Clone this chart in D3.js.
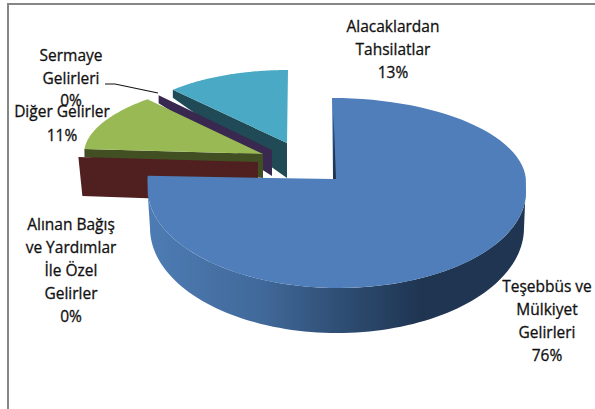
<!DOCTYPE html>
<html>
<head>
<meta charset="utf-8">
<script src="https://cdnjs.cloudflare.com/ajax/libs/d3/7.8.5/d3.min.js"></script>
<style>
html, body { margin: 0; padding: 0; background: #fff; }
svg { display: block; }
.label text { font-family: "Open Sans", Lato, sans-serif; font-size: 15.5px; fill: #111; text-anchor: middle; stroke: #111; stroke-width: 0.3px; }
</style>
</head>
<body>
<svg id="chart" width="595" height="409"></svg>
<script>
// values, clockwise from the top of the pie
const categories = ["Teşebbüs ve Mülkiyet Gelirleri", "Alınan Bağış ve Yardımlar İle Özel Gelirler", "Diğer Gelirler", "Sermaye Gelirleri", "Alacaklardan Tahsilatlar"];
const shares = [76, 0, 11, 0, 13];

const topColors = ["#4f7eba", "#c0504d", "#98b954", "#8064a2", "#4aa9c4"];
const faceColors = ["#1f3552", "#4f201f", "#424f22", "#39284f", "#1f4a56"];

// exploded slices: every one has its own tip and its own rim ellipse
const tipX = [333, 258, 263, 272, 287];
const tipY = [179, 162, 154, 150, 143];
const rimX = [335, 268, 318, 268, 288];
const rimYUp = [181, 162, 154, 150, 133];
const rimYDown = [190, 162, 154, 150, 133];
const rimRxRight = [191, 190, 234, 150, 158];
const rimRxLeft = [187.5, 190, 234, 150, 158];
const rimRyUp = [83, 80, 80, 80, 63];
const rimRyDown = [98, 80, 80, 80, 63];
const rimSkew = [3, 0, 0, 0, 0];
const faceOuter = [0, 39, 8, 8, 8];
const faceTip = [0, 40, 24, 26, 35];
const faceSlant = [0, 4, 0, 0, 0];
const drawOrder = [4, 3, 2, 1, 0];

// lower edge of the wall of the big slice
const wallX = 337, wallY = 228, wallRx = 187, wallRy = 105;

// label lines, x centre, first baseline
const labelLines = [
    ["Teşebbüs ve", "Mülkiyet", "Gelirleri"],
    ["Alınan Bağış", "ve Yardımlar", "İle Özel", "Gelirler"],
    ["Diğer Gelirler"],
    ["Sermaye", "Gelirleri"],
    ["Alacaklardan", "Tahsilatlar"]
];
const labelX = [547, 71, 62, 71, 393];
const labelY = [292, 230, 117, 61, 32];
const labelStep = [23, 23, 24, 22.5, 23];
const labelOrder = [0, 1, 3, 2, 4];

const svg = d3.select("#chart");

const slices = d3.pie().sort(null).value(d => d)(shares);

function rimPoint(i, a) {
    const u = Math.sin(a), v = -Math.cos(a);
    const rx = u < 0 ? rimRxLeft[i] : rimRxRight[i];
    const y = v < 0 ? rimYUp[i] + rimRyUp[i] * v : rimYDown[i] + rimRyDown[i] * v;
    return [rimX[i] + rx * u + rimSkew[i] * v, y];
}

function arcPoints(i, a0, a1, n) {
    return d3.range(n + 1).map(k => rimPoint(i, a0 + (a1 - a0) * k / n));
}

const line = d3.line();

// chart frame, only its left and top edges are inside the picture
svg.append("rect")
    .attr("x", 8).attr("y", 4)
    .attr("width", 700).attr("height", 600)
    .attr("fill", "none")
    .attr("stroke", "#868686")
    .attr("stroke-width", 2);

const defs = svg.append("defs");
const wallGradient = defs.append("linearGradient")
    .attr("id", "wall-gradient")
    .attr("gradientUnits", "userSpaceOnUse")
    .attr("x1", 148).attr("x2", 527)
    .attr("y1", 0).attr("y2", 0);
wallGradient.selectAll("stop")
    .data([[0, "#4d7cb4"], [0.3, "#41699a"], [0.5, "#2f4f75"], [0.72, "#1f3552"], [1, "#1f3552"]])
    .enter().append("stop")
    .attr("offset", d => d[0])
    .attr("stop-color", d => d[1]);

const pieG = svg.append("g").attr("id", "pie");

drawOrder.forEach(i => {
    const s = slices[i];
    const g = pieG.append("g");

    // cut face on the slice's start side
    if (faceTip[i] > 0) {
        const p = rimPoint(i, s.startAngle);
        g.append("path")
            .attr("d", line([p, [tipX[i], tipY[i]], [tipX[i], tipY[i] + faceTip[i]], [p[0] + faceSlant[i], p[1] + faceOuter[i]]]) + "Z")
            .attr("fill", faceColors[i]);
    }

    if (s.endAngle <= s.startAngle) return;

    // outer wall for the front half of the first slice
    if (i === 0) {
        const front = arcPoints(i, Math.PI / 2, 1.5 * Math.PI, 90);
        const lower = d3.range(91).map(k => {
            const a = 1.5 * Math.PI - Math.PI * k / 90;
            return [wallX + wallRx * Math.sin(a), wallY - wallRy * Math.cos(a)];
        });
        g.append("path")
            .attr("d", line(front.concat(lower)) + "Z")
            .attr("fill", "url(#wall-gradient)");
    }

    const top = [[tipX[i], tipY[i]]].concat(arcPoints(i, s.startAngle, s.endAngle, 90));
    g.append("path")
        .attr("d", line(top) + "Z")
        .attr("fill", topColors[i]);

    // dark sliver of the hidden cut face, seen along the big slice's edge
    if (i === 0) {
        g.append("path")
            .attr("d", line([[tipX[i], tipY[i]], [tipX[i] + 3, tipY[i]], [tipX[i] + 0.5, tipY[i] - 65]]) + "Z")
            .attr("fill", faceColors[i]);
    }
});

// leader line of the Sermaye label
const leader = [[105, 84], [115, 84], [158, 93]];
svg.append("path")
    .attr("d", line(leader))
    .attr("fill", "none")
    .attr("stroke", "#111")
    .attr("stroke-width", 1.2);

const labels = svg.append("g").attr("class", "label");
labelOrder.forEach(i => {
    const rows = labelLines[i].concat(d3.format(".0f")(shares[i]) + "%");
    rows.forEach((t, k) => {
        labels.append("text")
            .attr("x", labelX[i])
            .attr("y", labelY[i] + k * labelStep[i])
            .text(t);
    });
});
</script>
</body>
</html>
